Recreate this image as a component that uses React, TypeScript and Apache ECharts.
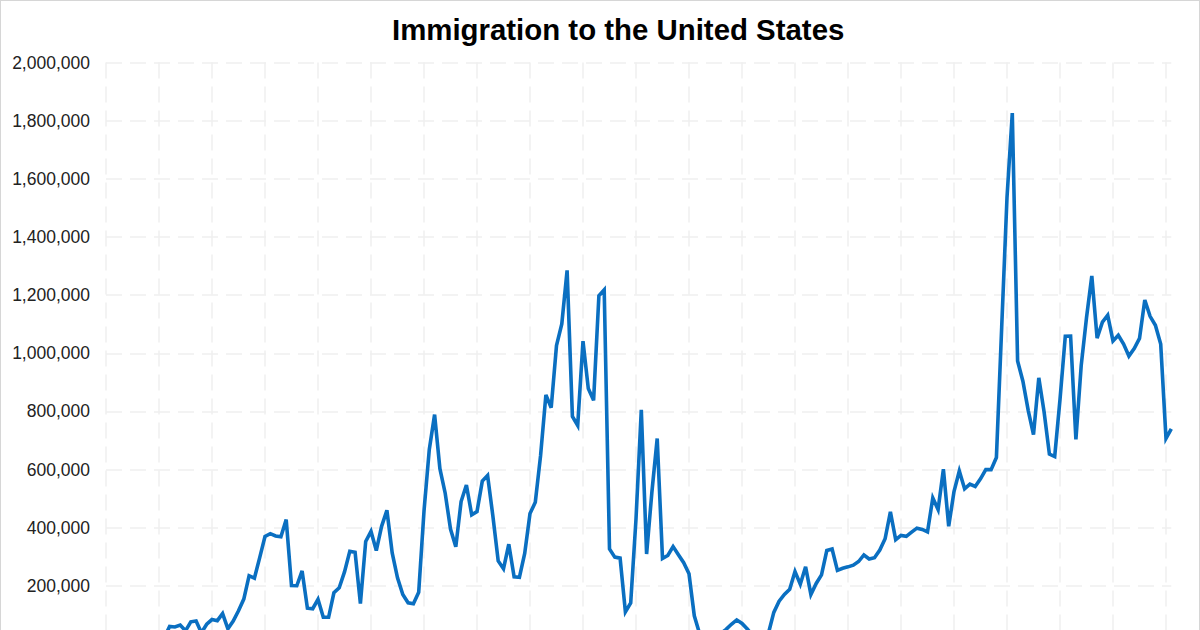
import React, { useEffect, useRef } from "react";
import * as echarts from "echarts";

const title = "Immigration to the United States";

const startYear = 1820;

const immigrants: number[] = [
  // 1820-1829
  8385, 9127, 6911, 6354, 7912, 10199, 10837, 18875, 27382, 22520,
  // 1830-1839
  23322, 22633, 60482, 58640, 65365, 45374, 76242, 79340, 38914, 68069,
  // 1840-1849
  84066, 80289, 104565, 52496, 78615, 114371, 154416, 234968, 226527, 297024,
  // 1850-1859
  369980, 379466, 371603, 368645, 427833, 200877, 200436, 251306, 123126, 121282,
  // 1860-1869
  153640, 91918, 91985, 176282, 193418, 248120, 318568, 315722, 138840, 352768,
  // 1870-1879
  387203, 321350, 404806, 459803, 313339, 227498, 169986, 141857, 138469, 177826,
  // 1880-1889
  457257, 669431, 788992, 603322, 518592, 395346, 334203, 490109, 546889, 444427,
  // 1890-1899
  455302, 560319, 579663, 439730, 285631, 258536, 343267, 230832, 229299, 311715,
  // 1900-1909
  448572, 487918, 648743, 857046, 812870, 1026499, 1100735, 1285349, 782870, 751786,
  // 1910-1919
  1041570, 878587, 838172, 1197892, 1218480, 326700, 298826, 295403, 110618, 141132,
  // 1920-1929
  430001, 805228, 309556, 522919, 706896, 294314, 304488, 335175, 307255, 279678,
  // 1930-1939
  241700, 97139, 35576, 23068, 29470, 34956, 36329, 50244, 67895, 82998,
  // 1940-1949
  70756, 51776, 28781, 23725, 28551, 38119, 108721, 147292, 170570, 188317,
  // 1950-1959
  249187, 205717, 265520, 170434, 208177, 237790, 321625, 326867, 253265, 260686,
  // 1960-1969
  265398, 271344, 283763, 306260, 292248, 296697, 323040, 361972, 454448, 358579,
  // 1970-1979
  373326, 370478, 384685, 398515, 393919, 385378, 502289, 462315, 601442, 405000,
  // 1980-1989
  524295, 595014, 533624, 550052, 541811, 568149, 600027, 599889, 641346, 1090172,
  // 1990-1999
  1535872, 1826595, 973445, 903916, 803993, 720177, 915560, 797847, 653206, 644787,
  // 2000-2009
  841002, 1058902, 1059356, 703542, 957883, 1122257, 1266129, 1052415, 1107126, 1130818,
  // 2010-2019
  1042625, 1062040, 1031631, 990553, 1016518, 1051031, 1183505, 1127167, 1096611, 1031765,
  // 2020-2021
  707362, 740002,
];

const years: string[] = immigrants.map((_, i) => String(startYear + i));

const yTicks = { min: 0, max: 2000000, interval: 200000 };

const fmt = (v: number) => v.toLocaleString("en-US");

export default function App() {
  const ref = useRef<HTMLDivElement>(null);

  useEffect(() => {
    if (!ref.current) return;
    const chart = echarts.init(ref.current, null, { renderer: "svg" });
    const font = "'Liberation Sans', Arial, sans-serif";
    const gridLine = { color: "#efefef", width: 1.5, type: [16, 8] };
    chart.setOption({
      animation: false,
      backgroundColor: "#ffffff",
      title: {
        text: title,
        left: 386,
        top: 9,
        textStyle: {
          fontFamily: font,
          fontSize: 29.4,
          fontWeight: "bold",
          color: "#000000",
        },
      },
      grid: {
        left: 105,
        right: 27.7,
        top: 61.6,
        bottom: 55,
        containLabel: false,
      },
      xAxis: {
        type: "category",
        data: years,
        boundaryGap: false,
        axisLine: { show: false },
        axisTick: { show: false },
        axisLabel: { show: false },
        splitLine: {
          show: true,
          interval: (index: number) => index % 10 === 0,
          lineStyle: gridLine,
        },
      },
      yAxis: {
        type: "value",
        min: yTicks.min,
        max: yTicks.max,
        interval: yTicks.interval,
        axisLine: { show: false },
        axisTick: { show: false },
        axisLabel: {
          margin: 16,
          fontFamily: font,
          fontSize: 17.5,
          color: "#222222",
          showMinLabel: false,
          formatter: (v: number) => fmt(v),
        },
        splitLine: {
          show: true,
          lineStyle: gridLine,
        },
      },
      series: [
        {
          type: "line",
          data: immigrants,
          showSymbol: false,
          symbol: "none",
          lineStyle: { color: "#0a6fc1", width: 3.6, join: "miter", miterLimit: 10 },
          itemStyle: { color: "#0a6fc1" },
        },
      ],
    });
    return () => chart.dispose();
  }, []);

  return (
    <div
      style={{
        position: "absolute",
        left: 0,
        top: 0,
        width: 1200,
        height: 700,
        boxSizing: "border-box",
        border: "1px solid #d6d6d6",
        background: "#fff",
      }}
    >
      <div ref={ref} style={{ width: 1198, height: 698 }} />
    </div>
  );
}
